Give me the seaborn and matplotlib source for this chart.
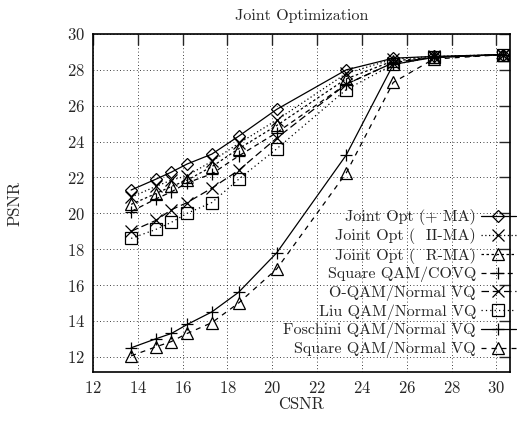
import matplotlib
matplotlib.use("Agg")
import matplotlib.pyplot as plt
import numpy as np
import pandas as pd
import seaborn as sns

# CSNR points shared by all schemes
csnr = [13.7, 14.8, 15.5, 16.2, 17.3, 18.5, 20.2, 23.3, 25.4, 27.2, 30.3]

joint_ma = [21.3, 21.9, 22.3, 22.75, 23.3, 24.3, 25.8, 28.0, 28.65, 28.75, 28.85]
joint_ii = [20.9, 21.5, 21.85, 22.1, 22.9, 23.9, 25.2, 27.8, 28.6, 28.75, 28.85]
joint_r = [20.5, 21.1, 21.5, 21.85, 22.6, 23.6, 24.9, 27.5, 28.5, 28.7, 28.85]
covq = [20.1, 20.8, 21.2, 21.7, 22.2, 23.2, 24.5, 27.2, 28.4, 28.7, 28.85]
oqam = [19.0, 19.6, 20.2, 20.6, 21.4, 22.4, 24.2, 27.2, 28.4, 28.7, 28.85]
liu = [18.6, 19.1, 19.5, 20.0, 20.6, 21.9, 23.6, 26.9, 28.3, 28.7, 28.85]
foschini = [12.5, 13.0, 13.3, 13.8, 14.5, 15.6, 17.8, 23.25, 28.3, 28.7, 28.85]
sq_normal = [12.05, 12.55, 12.85, 13.3, 13.9, 15.0, 16.9, 22.25, 27.3, 28.6, 28.85]

labels = [
    "Joint Opt (+ MA)",
    "Joint Opt (  II-MA)",
    "Joint Opt (  R-MA)",
    "Square QAM/COVQ",
    "O-QAM/Normal VQ",
    "Liu QAM/Normal VQ",
    "Foschini QAM/Normal VQ",
    "Square QAM/Normal VQ",
]
series = [joint_ma, joint_ii, joint_r, covq, oqam, liu, foschini, sq_normal]

# styles: marker, linestyle
styles = [
    ("D", "-"),
    ("x", (0, (1, 2))),
    ("^", (0, (2, 2))),
    ("+", (0, (4, 3))),
    ("x", (0, (6, 3))),
    ("s", (0, (1, 2.5))),
    ("+", "-"),
    ("^", (0, (4, 4))),
]

sns.set_style("white")
plt.rcParams["font.family"] = ["cmr10", "DejaVu Serif"]
plt.rcParams["axes.formatter.use_mathtext"] = True

fig = plt.figure(figsize=(5.17, 4.25), dpi=100)
ax = fig.add_axes([0.180, 0.1247, 0.806, 0.7953])

for lab, vals, (mk, ls) in zip(labels, series, styles):
    df = pd.DataFrame({"CSNR": csnr, "PSNR": vals})
    ms = 6.5 if mk == "D" else 8.5
    sns.lineplot(data=df, x="CSNR", y="PSNR", ax=ax, color="k", linestyle=ls,
                 linewidth=0.9, marker=mk, markersize=ms, markerfacecolor="none",
                 markeredgecolor="k", markeredgewidth=0.9, label=lab)

ax.set_xlim(12, 30.6)
ax.set_ylim(11.15, 30)
ax.set_xticks(np.arange(12, 31, 2))
ax.set_yticks(np.arange(12, 31, 2))
ax.grid(True, color="k", linestyle=(0, (1, 3)), linewidth=0.6)
ax.tick_params(direction="in", length=8, width=1, top=True, right=True,
               labelsize=12, pad=6)
for s in ax.spines.values():
    s.set_linewidth(1.2)
    s.set_color("k")

ax.set_title("Joint Optimization", fontsize=11.5, pad=10)
ax.set_xlabel("CSNR", fontsize=12, labelpad=0)
ax.set_ylabel("PSNR", fontsize=12, fontweight="bold", labelpad=32)

ax.legend(loc="lower right", bbox_to_anchor=(1.03, 0.025), markerfirst=False,
          frameon=False, fontsize=11.5, labelspacing=0.2, handlelength=2.2,
          handletextpad=0.3, borderaxespad=0.0)

fig.savefig("out.png", dpi=100)
